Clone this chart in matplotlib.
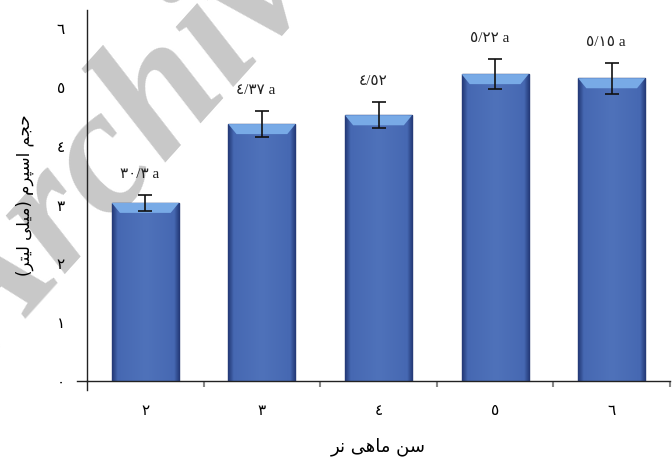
import matplotlib
matplotlib.use('Agg')
import matplotlib.pyplot as plt
import numpy as np
from matplotlib.colors import LinearSegmentedColormap
from matplotlib.patches import Polygon

# داده ها
ages = ['٢', '٣', '٤', '٥', '٦']
volume = [3.03, 4.37, 4.52, 5.22, 5.15]
errors = [0.13, 0.22, 0.22, 0.26, 0.26]
bar_labels = ['٣٠/٣ a', '٤/٣٧ a', '٤/٥٢', '٥/٢٢ a', '٥/١٥ a']
y_ticks = [0, 1, 2, 3, 4, 5, 6]
y_tick_labels = ['٠', '١', '٢', '٣', '٤', '٥', '٦']

x_title = 'سن ماهی نر'
y_title = 'حجم اسپرم (میلی لیتر)'

# matplotlib does no arabic shaping, so do it by hand
FORMS = {
    'ا': ('\uFE8D', '\uFE8E', None, None),
    'ح': ('\uFEA1', '\uFEA2', '\uFEA3', '\uFEA4'),
    'ج': ('\uFE9D', '\uFE9E', '\uFE9F', '\uFEA0'),
    'م': ('\uFEE1', '\uFEE2', '\uFEE3', '\uFEE4'),
    'س': ('\uFEB1', '\uFEB2', '\uFEB3', '\uFEB4'),
    'ن': ('\uFEE5', '\uFEE6', '\uFEE7', '\uFEE8'),
    'ه': ('\uFEE9', '\uFEEA', '\uFEEB', '\uFEEC'),
    'ی': ('\uFBFC', '\uFBFD', '\uFBFE', '\uFBFF'),
    'ر': ('\uFEAD', '\uFEAE', None, None),
    'پ': ('\uFB56', '\uFB57', '\uFB58', '\uFB59'),
    'ل': ('\uFEDD', '\uFEDE', '\uFEDF', '\uFEE0'),
    'ت': ('\uFE95', '\uFE96', '\uFE97', '\uFE98'),
}


def shape(s):
    out = []
    for i, ch in enumerate(s):
        if ch not in FORMS:
            out.append(ch)
            continue
        prev = s[i - 1] if i > 0 else ''
        nxt = s[i + 1] if i + 1 < len(s) else ''
        j_prev = prev in FORMS and FORMS[prev][2] is not None
        j_next = nxt in FORMS and FORMS[ch][2] is not None
        iso, fin, ini, med = FORMS[ch]
        if j_prev and j_next:
            out.append(med)
        elif j_prev:
            out.append(fin)
        elif j_next:
            out.append(ini)
        else:
            out.append(iso)
    vis = ''.join(reversed(out))
    return vis.translate(str.maketrans('()', ')('))


fig = plt.figure(figsize=(6.72, 4.66), dpi=100)
ax = fig.add_axes([0.1295, 0.1824, 0.8675, 0.796])
ax.patch.set_alpha(0)

# watermark
fig.text(-0.021, 0.20, 'Archive', rotation=48, rotation_mode='anchor',
         ha='left', va='baseline', fontsize=130, family='Liberation Serif',
         weight='bold', style='italic', color='#c8c8c8', zorder=-1)

x = np.arange(len(ages))
width = 0.575
bars = ax.bar(x, volume, width, color='#4b6cb3', edgecolor='#22346c',
              linewidth=1.0, zorder=1)

# gradient + bevel on each bar
cmap = LinearSegmentedColormap.from_list(
    'bar', [(0, '#243a78'), (0.08, '#4668b2'), (0.5, '#4f72ba'),
            (0.92, '#4668b2'), (1, '#243a78')])
grad = np.linspace(0, 1, 100).reshape(1, -1)
for b in bars:
    x0, w, h = b.get_x(), b.get_width(), b.get_height()
    im = ax.imshow(grad, cmap=cmap, extent=[x0, x0 + w, 0, h],
                   aspect='auto', zorder=1.1)
    im.set_clip_path(b)
    dx, dy = 0.07, 0.17
    bevel = Polygon([[x0, h], [x0 + w, h], [x0 + w - dx, h - dy], [x0 + dx, h - dy]],
                    closed=True, facecolor='#78aae6', edgecolor='none', zorder=1.2)
    ax.add_patch(bevel)

ax.errorbar(x, volume, yerr=errors, fmt='none', ecolor='#111111',
            elinewidth=1.2, capsize=5, capthick=1.2, zorder=3)

for xi, v, e, lab in zip(x, volume, errors, bar_labels):
    ax.annotate(lab, (xi - 0.05, v + e), xytext=(0, 10), textcoords='offset points',
                ha='center', va='bottom', fontsize=11, color='#222222',
                family=['Liberation Serif', 'DejaVu Sans'])

ax.set_xlim(-0.5, len(ages) - 0.5)
ax.set_ylim(0, 6.31)

ax.set_xticks(x)
ax.set_xticklabels(ages, fontsize=11)
ax.set_xticks(x + 0.5, minor=True)
ax.tick_params(axis='x', which='major', length=0, pad=16)
ax.tick_params(axis='x', which='minor', length=4, width=1.5, color='#888888')

ax.set_yticks(y_ticks)
ax.set_yticklabels(y_tick_labels, fontsize=11)
ax.tick_params(axis='y', length=0, pad=16)

for s in ['top', 'right']:
    ax.spines[s].set_visible(False)
for s in ['left', 'bottom']:
    ax.spines[s].set_color('#222222')
    ax.spines[s].set_linewidth(1.0)

# axis line stubs like excel
ax.plot([0, 0], [0, -0.025], transform=ax.transAxes, clip_on=False, color='#222222', lw=1.0)
ax.plot([-0.018, 0], [0, 0], transform=ax.transAxes, clip_on=False, color='#222222', lw=1.0)

ax.set_xlabel(shape(x_title), fontsize=13, labelpad=14)
ax.set_ylabel(shape(y_title), fontsize=12, labelpad=16)

fig.savefig('out.png', dpi=100)
